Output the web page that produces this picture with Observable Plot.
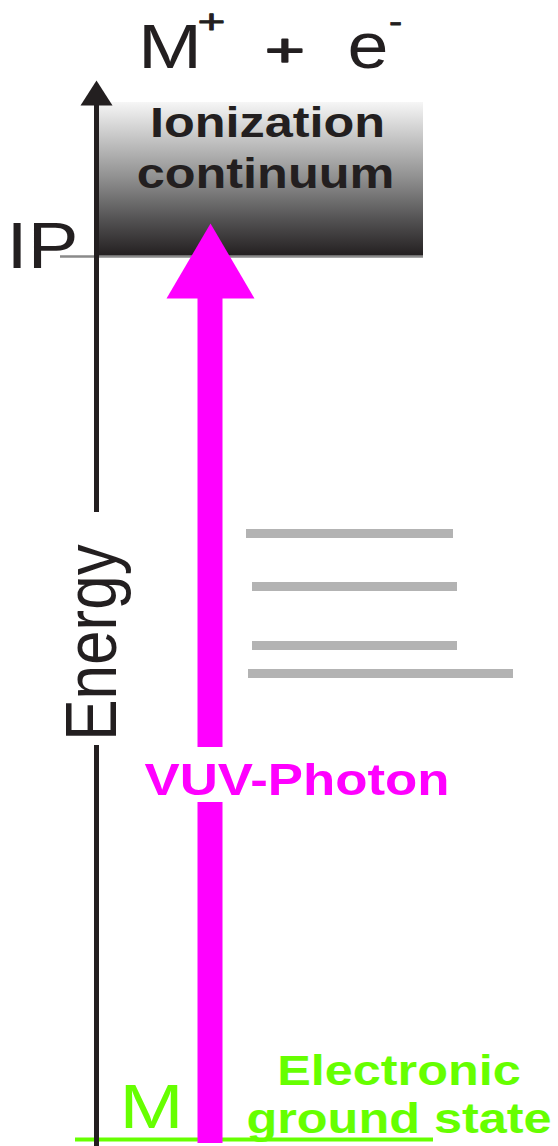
<!DOCTYPE html>
<html>
<head>
<meta charset="utf-8">
<script src="https://cdn.jsdelivr.net/npm/d3@7"></script>
<script src="https://cdn.jsdelivr.net/npm/@observablehq/plot@0.6"></script>
<style>
  html, body { margin: 0; padding: 0; background: #fff; }
  #chart svg { display: block; }
</style>
</head>
<body>
<div id="chart"></div>
<script>
// ---- data (energy in arbitrary units: ground state = 0, ionization potential = 10) ----
const energyDomain = [-0.079, 12.899];
const groundState = 0;
const ionizationPotential = 10;
const continuumTop = 11.744;
const excitedLevels = [6.863, 6.263, 5.595, 5.277];
const excitedStart = [246, 252, 252, 248];
const excitedEnd = [453, 457, 457, 513];
const photonTip = 10.374;
const photonHeadBase = 9.524;
const axisTip = 11.993;
const axisHeadBase = 11.71;
const labelTexts = {
  ion: "M", plus: "+", electron: "e", ionCharge: "+", electronCharge: "-",
  ip: "IP", cont1: "Ionization", cont2: "continuum", axis: "Energy",
  photon: "VUV-Photon", ground1: "Electronic", ground2: "ground state", molecule: "M"
};

const dark = "#231f20";
const magenta = "#ff00ff";
const green = "#66ff00";
const grey = "#b3b3b3";
const font = "'Liberation Sans', Arial, Helvetica, sans-serif";

const excited = excitedLevels.map((e, i) => ({e, x1: excitedStart[i], x2: excitedEnd[i]}));

function txt(text, x, y, opts) {
  return Plot.text([{text, x, y}], {
    x: "x", y: "y", text: "text",
    fontFamily: font, lineAnchor: "bottom", textAnchor: "middle",
    ...opts
  });
}

const defs = () => {
  const ns = "http://www.w3.org/2000/svg";
  const d = document.createElementNS(ns, "defs");
  const lg = document.createElementNS(ns, "linearGradient");
  lg.setAttribute("id", "contGrad");
  lg.setAttribute("x1", "0"); lg.setAttribute("y1", "0");
  lg.setAttribute("x2", "0"); lg.setAttribute("y2", "1");
  [[0, "#f6f6f6"], [0.25, "#c2c2c2"], [0.5, "#8e8e8e"], [0.75, "#565556"], [1, "#231f20"]].forEach(([o, c]) => {
    const s = document.createElementNS(ns, "stop");
    s.setAttribute("offset", o);
    s.setAttribute("stop-color", c);
    lg.appendChild(s);
  });
  d.appendChild(lg);
  return d;
};

const chart = Plot.plot({
  width: 558,
  height: 1146,
  margin: 0,
  style: {fontFamily: font, background: "#fff"},
  x: {domain: [0, 558], range: [0, 558], axis: null},
  y: {domain: energyDomain, axis: null},
  marks: [
    defs,
    // ionization continuum box
    Plot.rect([{x1: 99, x2: 423, y1: ionizationPotential, y2: continuumTop}],
      {x1: "x1", x2: "x2", y1: "y1", y2: "y2", fill: "url(#contGrad)", inset: 0}),
    // IP tick
    Plot.ruleY([ionizationPotential], {x1: 60, x2: 423, stroke: "#8a8a8a", strokeWidth: 2.5}),
    // excited (Rydberg) levels
    Plot.ruleY(excited, {y: "e", x1: "x1", x2: "x2", stroke: grey, strokeWidth: 9}),
    // ground state
    Plot.ruleY([groundState], {x1: 75, x2: 433, stroke: green, strokeWidth: 4}),
    // energy axis
    Plot.ruleX([{y1: energyDomain[0], y2: 4.462}, {y1: 7.101, y2: axisHeadBase + 0.02}],
      {x: 96, y1: "y1", y2: "y2", stroke: dark, strokeWidth: 5}),
    Plot.line([{x: 80, y: axisHeadBase}, {x: 96, y: axisTip}, {x: 112, y: axisHeadBase}],
      {x: "x", y: "y", fill: dark, stroke: "none"}),
    // VUV photon arrow
    Plot.ruleX([{y1: -0.045, y2: 3.817}, {y1: 4.439, y2: photonHeadBase + 0.02}],
      {x: 209.5, y1: "y1", y2: "y2", stroke: magenta, strokeWidth: 25}),
    Plot.line([{x: 166, y: photonHeadBase}, {x: 210, y: photonTip}, {x: 254, y: photonHeadBase}],
      {x: "x", y: "y", fill: magenta, stroke: "none"}),
    // labels
    txt(labelTexts.ion, 169.5, 12.14, {fontSize: 63, fill: dark}),
    txt(labelTexts.ionCharge, 211, 12.526, {fontSize: 33, fill: dark, stroke: dark, strokeWidth: 0.8}),
    txt(labelTexts.plus, 284.5, 12.152, {fontSize: 47, fill: dark, stroke: dark, strokeWidth: 1.6}),
    txt(labelTexts.electron, 367.5, 12.14, {fontSize: 64, fill: dark}),
    txt(labelTexts.electronCharge, 395, 12.526, {fontSize: 33, fill: dark, stroke: dark, strokeWidth: 0.8}),
    txt(labelTexts.cont1, 267, 11.348, {fontSize: 42, fontWeight: "bold", fill: dark}),
    txt(labelTexts.cont2, 265, 10.781, {fontSize: 42, fontWeight: "bold", fill: dark}),
    txt(labelTexts.ip, 42, 9.875, {fontSize: 65, fill: dark}),
    txt(labelTexts.axis, 115, 5.628, {fontSize: 62, fill: dark, rotate: -90}),
    txt(labelTexts.photon, 296.5, 3.896, {fontSize: 44, fontWeight: "bold", fill: magenta}),
    txt(labelTexts.ground1, 398.5, 0.612, {fontSize: 42, fontWeight: "bold", fill: green}),
    txt(labelTexts.ground2, 398.5, 0.079, {fontSize: 42, fontWeight: "bold", fill: green}),
    txt(labelTexts.molecule, 151, 0.136, {fontSize: 63, fill: green})
  ]
});

// horizontal stretch of the lettering, as in the original artwork
const stretch = {
  "M": [1.22, 1], "+": [1.45, 1], "e": [1.15, 1], "-": [1.2, 1],
  "Ionization": [1.2, 1], "continuum": [1.2, 1], "IP": [1.17, 1],
  "Energy": [1, 1.18], "VUV-Photon": [1.2, 1], "Electronic": [1.2, 1], "ground state": [1.2, 1]
};
chart.querySelectorAll("text").forEach(t => {
  const s = stretch[t.textContent];
  if (s) t.setAttribute("transform", (t.getAttribute("transform") || "") + ` scale(${s[0]},${s[1]})`);
});

document.getElementById("chart").appendChild(chart);
</script>
</body>
</html>
